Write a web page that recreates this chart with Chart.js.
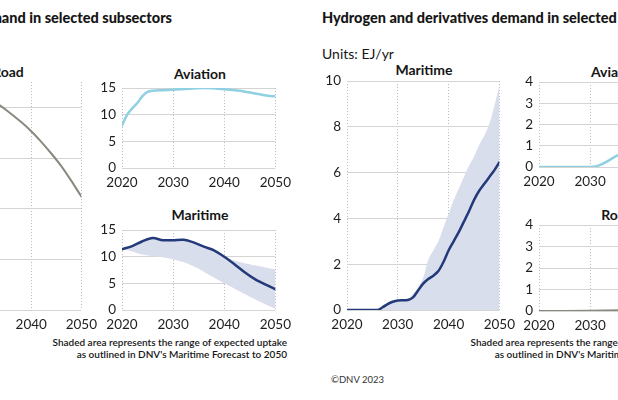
<!DOCTYPE html>
<html>
<head>
<meta charset="utf-8">
<script src="https://cdn.jsdelivr.net/npm/chart.js@4.4.0/dist/chart.umd.min.js"></script>
<style>
  html, body { margin: 0; padding: 0; background: #fff; }
  body { width: 618px; height: 400px; position: relative; overflow: hidden; font-family: Lato, sans-serif; color: #161616; }
  canvas { position: absolute; }
  .t { position: absolute; white-space: nowrap; line-height: 1; }
  .head { font-size: 14.5px; font-weight: 900; top: 11px; }
  .ptitle { font-size: 14px; font-weight: bold; transform: translate(-50%, -50%); }
  .note { font-size: 10px; font-weight: 600; line-height: 12px; text-align: right; top: 336px; }
</style>
</head>
<body>
<div class="t head" style="right:446px">Oil demand in selected subsectors</div>
<div class="t head" style="left:322px">Hydrogen and derivatives demand in selected subsectors</div>
<div class="t" style="left:322px; top:47px; font-size:14px">Units: EJ/yr</div>

<div class="t ptitle" style="left:8px; top:72px">Road</div>
<div class="t ptitle" style="left:200px; top:74px">Aviation</div>
<div class="t ptitle" style="left:200px; top:215px">Maritime</div>
<div class="t ptitle" style="left:424px; top:70px">Maritime</div>
<div class="t ptitle" style="left:617px; top:72px">Aviation</div>
<div class="t ptitle" style="left:617px; top:215px">Road</div>

<div class="t note" style="right:331px">Shaded area represents the range of expected uptake<br>as outlined in DNV's Maritime Forecast to 2050</div>
<div class="t note" style="right:-87px">Shaded area represents the range of expected uptake<br>as outlined in DNV's Maritime Forecast to 2050</div>
<div class="t" style="left:331px; top:375px; font-size:9.5px; color:#333">©DNV 2023</div>

<canvas id="oilRoad" width="201" height="266" style="left:-97px; top:68px"></canvas>
<canvas id="oilAviation" width="204" height="118" style="left:94px; top:74px"></canvas>
<canvas id="oilMaritime" width="204" height="118" style="left:94px; top:216px"></canvas>
<canvas id="h2Maritime" width="203" height="267" style="left:319px; top:67px"></canvas>
<canvas id="h2Aviation" width="204" height="123" style="left:511px; top:68px"></canvas>
<canvas id="h2Road" width="204" height="124" style="left:511px; top:211px"></canvas>

<script>
// oil demand, EJ/yr
const oilRoadYears = [2032, 2035, 2038, 2040, 2042, 2044, 2046, 2048, 2050];
const oilRoad = [41.6, 39.5, 37.1, 35.3, 33.2, 30.9, 28.4, 25.5, 22.4];

const oilAviationYears = [2020, 2021, 2022, 2023, 2024, 2025, 2026, 2028, 2030, 2033, 2036, 2040, 2043, 2046, 2049, 2050];
const oilAviation = [8.0, 10.0, 11.2, 12.2, 13.5, 14.3, 14.5, 14.6, 14.7, 14.9, 15.0, 14.8, 14.5, 14.0, 13.5, 13.5];

const oilMaritimeYears = [2020, 2022, 2024, 2026, 2028, 2030, 2032, 2034, 2036, 2038, 2040, 2042, 2044, 2046, 2048, 2050];
const oilMaritime = [11.4, 12.0, 12.9, 13.5, 13.1, 13.1, 13.2, 12.7, 11.9, 11.2, 10.0, 8.6, 7.1, 5.8, 4.8, 3.9];
const oilMaritimeHigh = [11.4, 12.0, 12.9, 13.5, 13.1, 13.1, 13.2, 12.7, 11.9, 11.2, 10.0, 9.3, 8.8, 8.4, 8.0, 7.6];
const oilMaritimeLow = [11.4, 11.0, 10.4, 10.1, 9.9, 9.5, 9.0, 8.2, 7.2, 6.1, 5.0, 4.0, 3.0, 2.0, 1.1, 0.3];

// hydrogen and derivatives demand, EJ/yr
const h2MaritimeYears = [2020, 2026, 2027, 2028, 2029, 2030, 2032, 2033, 2034, 2035, 2036, 2037, 2038, 2039, 2040, 2041, 2042, 2043, 2044, 2045, 2046, 2047, 2048, 2049, 2050];
const h2Maritime = [0, 0, 0.12, 0.26, 0.36, 0.42, 0.44, 0.55, 0.85, 1.15, 1.35, 1.5, 1.7, 2.1, 2.6, 3.0, 3.4, 3.85, 4.3, 4.8, 5.2, 5.5, 5.8, 6.1, 6.45];
const h2MaritimeHigh = [0, 0, 0.12, 0.26, 0.36, 0.42, 0.5, 0.7, 1.0, 1.4, 2.2, 2.6, 3.0, 3.6, 4.2, 4.8, 5.3, 5.8, 6.3, 6.7, 7.2, 7.6, 8.1, 8.9, 9.8];
const h2MaritimeLow = [0, 0, 0, 0, 0, 0, 0, 0, 0, 0, 0, 0, 0, 0, 0, 0, 0, 0, 0, 0, 0, 0, 0, 0, 0];

const h2AviationYears = [2020, 2030, 2031, 2032, 2033, 2034, 2035, 2036];
const h2Aviation = [0, 0, 0.02, 0.1, 0.22, 0.36, 0.5, 0.62];

const h2RoadYears = [2020, 2030, 2036];
const h2Road = [0, 0.01, 0.03];

// axis ticks
const yearTicks = [2020, 2030, 2040, 2050];
const oilRoadTicks = [0, 10, 20, 30, 40];
const oilTicks = [0, 5, 10, 15];
const h2MaritimeTicks = [0, 2, 4, 6, 8, 10];
const h2SmallTicks = [0, 1, 2, 3, 4];

const AVIATION = '#8fd0e2';
const MARITIME = '#22397a';
const BAND = '#d9deec';
const ROAD = '#8b887f';

function pts(xs, ys) {
    return xs.map((x, i) => ({ x: x, y: ys[i] }));
}

function line(xs, ys, color, width) {
    return { data: pts(xs, ys), borderColor: color, borderWidth: width, fill: false };
}

function band(xs, hi, lo) {
    return [
        { data: pts(xs, hi), borderWidth: 0, backgroundColor: BAND, fill: '+1' },
        { data: pts(xs, lo), borderWidth: 0, fill: false }
    ];
}

function panel(id, yTicks, yMax, datasets) {
    const tickFont = { family: 'Lato', size: 13.5 };
    return new Chart(id, {
        type: 'line',
        data: { datasets: datasets },
        options: {
            responsive: false,
            animation: false,
            layout: { padding: { top: 10, right: 20, left: 0, bottom: 0 } },
            plugins: { legend: { display: false }, tooltip: { enabled: false } },
            elements: {
                point: { radius: 0 },
                line: { tension: 0.3, borderCapStyle: 'round', borderJoinStyle: 'round' }
            },
            scales: {
                x: {
                    type: 'linear', min: 2020, max: 2050,
                    afterBuildTicks: a => { a.ticks = yearTicks.map(v => ({ value: v })); },
                    afterFit: a => { a.height = 24; },
                    ticks: { padding: 7, color: '#1e1e1e', font: tickFont, maxRotation: 0, callback: v => String(v) },
                    grid: { color: '#b8b8b8', drawTicks: false },
                    border: { display: false, dash: [1, 2] }
                },
                y: {
                    min: 0, max: yMax,
                    afterBuildTicks: a => { a.ticks = yTicks.map(v => ({ value: v })); },
                    afterFit: a => { a.width = 28; },
                    ticks: { padding: 6, color: '#1e1e1e', font: tickFont },
                    grid: { color: '#d4d4d4', drawTicks: false },
                    border: { display: false }
                }
            }
        }
    });
}

panel('oilRoad', oilRoadTicks, 45, [line(oilRoadYears, oilRoad, ROAD, 2)]);
panel('oilAviation', oilTicks, 15, [line(oilAviationYears, oilAviation, AVIATION, 2.5)]);
panel('oilMaritime', oilTicks, 15, [line(oilMaritimeYears, oilMaritime, MARITIME, 2.5)]
    .concat(band(oilMaritimeYears, oilMaritimeHigh, oilMaritimeLow)));
panel('h2Maritime', h2MaritimeTicks, 10, [line(h2MaritimeYears, h2Maritime, MARITIME, 2.5)]
    .concat(band(h2MaritimeYears, h2MaritimeHigh, h2MaritimeLow)));
panel('h2Aviation', h2SmallTicks, 4, [line(h2AviationYears, h2Aviation, AVIATION, 2.5)]);
panel('h2Road', h2SmallTicks, 4, [line(h2RoadYears, h2Road, ROAD, 2)]);
</script>
</body>
</html>
